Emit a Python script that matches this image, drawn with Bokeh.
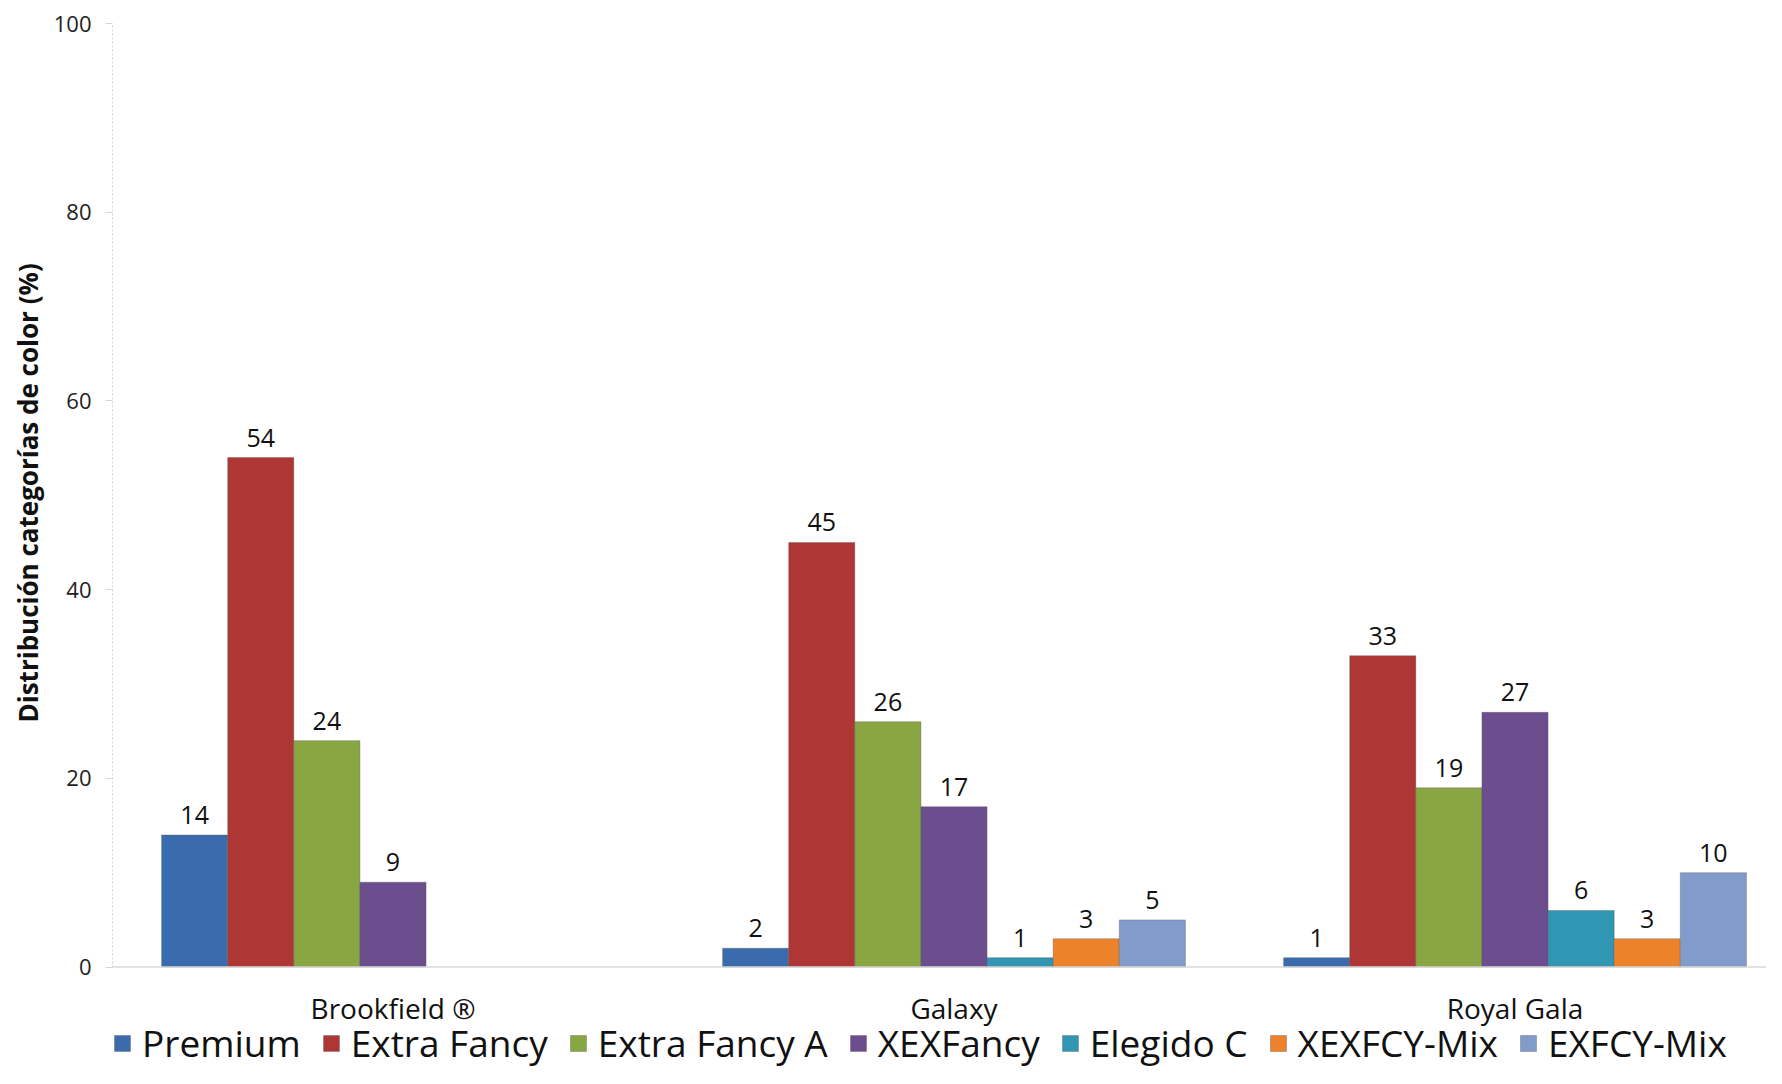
from bokeh.plotting import figure
from bokeh.models import (ColumnDataSource, Range1d, FixedTicker, Legend, LegendItem,
                          Span, Title)
from bokeh.embed import file_html
from bokeh.resources import INLINE
from bokeh.core.properties import value

# ---- data ----
categories = ["Brookfield ®", "Galaxy", "Royal Gala"]
series_names = ["Premium", "Extra Fancy", "Extra Fancy A", "XEXFancy",
                "Elegido C", "XEXFCY-Mix", "EXFCY-Mix"]
premium = [14, 2, 1]
extra_fancy = [54, 45, 33]
extra_fancy_a = [24, 26, 19]
xexfancy = [9, 17, 27]
elegido_c = [None, 1, 6]
xexfcy_mix = [None, 3, 3]
exfcy_mix = [None, 5, 10]
y_ticks = [0, 20, 40, 60, 80, 100]
y_title = "Distribución categorías de color (%)"

series_values = [premium, extra_fancy, extra_fancy_a, xexfancy,
                 elegido_c, xexfcy_mix, exfcy_mix]
colors = ["#3a6cad", "#ae3634", "#88a743", "#6c4e8f",
          "#3096b3", "#ec832a", "#819bca"]

# ---- layout constants ----
FONT = "Open Sans"
W, H = 1766, 1068
LEFT, TOP = 112, 23
ZERO_PX = 966.6          # screen y of value 0
cat_px = 561.0
x_end = (W - LEFT) / cat_px
px_per_unit = (ZERO_PX - TOP) / 100.0
y_start = -(H - ZERO_PX) / px_per_unit
group_width = 0.825
bar_w = group_width / len(series_names)

p = figure(width=W, height=H, x_range=Range1d(0, x_end), y_range=Range1d(y_start, 100),
           output_backend="svg", toolbar_location=None,
           min_border_left=LEFT, min_border_right=0, min_border_top=TOP,
           min_border_bottom=0)
p.outline_line_color = None
p.xgrid.grid_line_color = None
p.ygrid.grid_line_color = None
p.background_fill_color = "white"
p.border_fill_color = "white"
p.xaxis.visible = False

# category axis baseline
p.add_layout(Span(location=0, dimension="width", line_color="#d9d9d9", line_width=1.5))

legend_items = []
n = len(series_names)
for j, (name, vals, col) in enumerate(zip(series_names, series_values, colors)):
    off = (j - (n - 1) / 2) * bar_w
    xs, ys, txt = [], [], []
    for i, v in enumerate(vals):
        if v is None:
            continue
        xs.append(i + 0.5 + off)
        ys.append(v)
        txt.append(str(v))
    src = ColumnDataSource(dict(x=xs, top=ys, text=txt))
    r = p.vbar(x="x", top="top", bottom=0, width=bar_w, source=src,
               fill_color=col, line_color="#555555", line_alpha=0.35, line_width=1)
    p.text(x="x", y="top", text="text", source=src, text_align="center",
           text_baseline="alphabetic", y_offset=-20,
           text_font=value(FONT), text_font_size="25px", text_color="#111111")
    legend_items.append(LegendItem(label=name, renderers=[r]))

# category labels
cat_src = ColumnDataSource(dict(x=[i + 0.5 for i in range(len(categories))],
                                y=[0] * len(categories), text=categories))
p.text(x="x", y="y", text="text", source=cat_src, text_align="center",
       text_baseline="middle", y_offset=41,
       text_font=value(FONT), text_font_size="28px", text_color="#111111")

# y axis
ya = p.yaxis[0]
ya.bounds = (y_ticks[0], y_ticks[-1])
ya.ticker = FixedTicker(ticks=y_ticks)
ya.axis_line_color = "#d4d4d4"
ya.axis_line_dash = "2 2"
ya.major_tick_out = 7
ya.major_tick_in = 0
ya.minor_tick_out = 0
ya.minor_tick_in = 0
ya.major_tick_line_color = "#d4d4d4"
ya.major_label_standoff = 14
ya.major_label_text_font = FONT
ya.major_label_text_font_size = "22px"
ya.major_label_text_color = "#222222"

# y title, centred on the 0-100 span of the axis
p.add_layout(Title(text=y_title, align="left", offset=346,
                   text_font=FONT, text_font_size="26px", text_font_style="bold",
                   text_color="#111111"), "left")

legend = Legend(items=legend_items, orientation="horizontal", location=(0, 0),
                glyph_width=20, glyph_height=20, label_standoff=10, spacing=20,
                padding=0, margin=0, border_line_color=None, background_fill_alpha=0,
                label_text_font=FONT, label_text_font_size="37px",
                label_text_color="#111111")
p.add_layout(legend)

open("out.html", "w").write(file_html(p, INLINE))
